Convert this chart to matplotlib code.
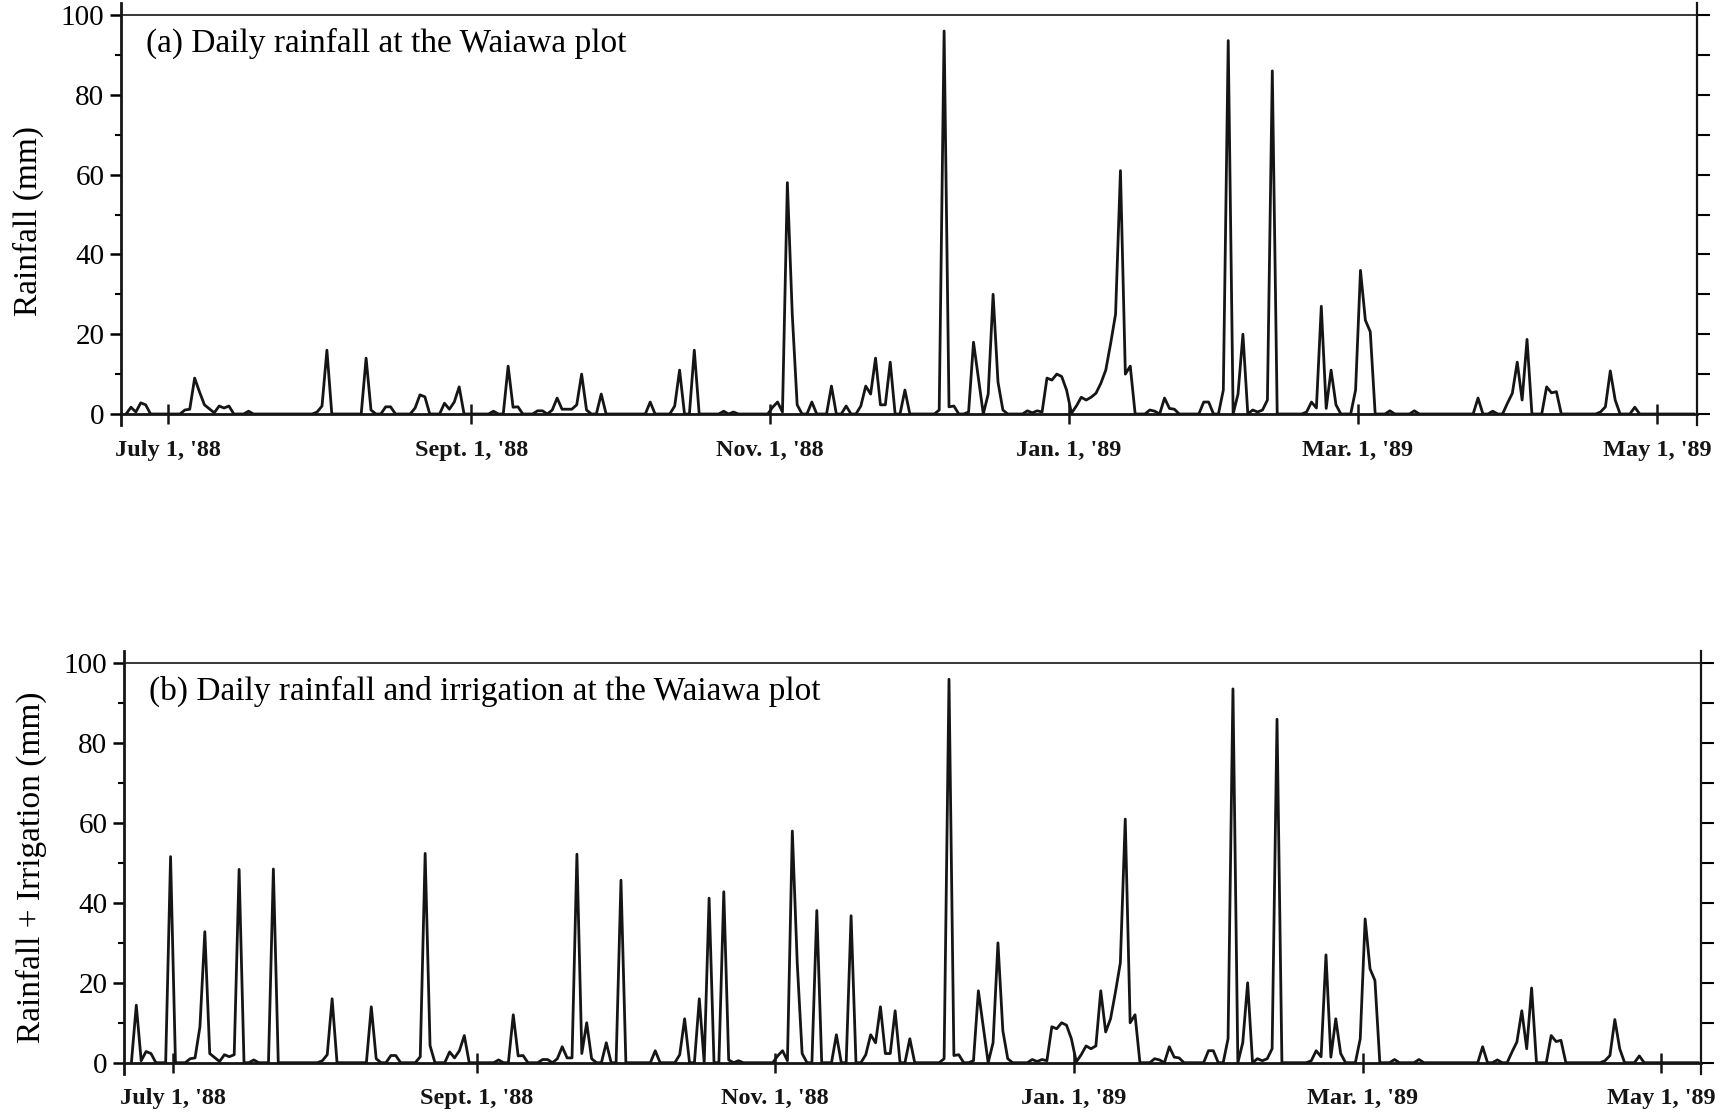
import numpy as np
import matplotlib
matplotlib.use("Agg")
import matplotlib.pyplot as plt

plt.rcParams["font.family"] = ["Liberation Serif", "DejaVu Serif"]

# day numbers counted from July 1, 1988 (day 0)
rain_days = [-8, -7, -6, -5, 3, 4, 5, 6, 7, 8, 9, 10, 11, 12, 16, 30, 31, 32, 40, 41,
             44, 45, 50, 51, 52, 56, 57, 58, 59, 66, 69, 70, 71, 75, 76, 78, 79, 80, 81, 82,
             83, 84, 85, 88, 98, 103, 104, 107, 113, 115, 123, 124, 125, 126, 127, 128, 131, 135, 138, 141,
             142, 143, 144, 145, 146, 147, 150, 157, 158, 159, 160, 163, 164, 165, 167, 168, 169, 170, 175, 176,
             177, 178, 179, 180, 181, 182, 183, 184, 185, 186, 187, 188, 189, 190, 191, 192, 193, 194, 195, 196,
             200, 201, 203, 204, 205, 211, 212, 215, 216, 218, 219, 221, 222, 223, 224, 225, 232, 233, 234, 235,
             236, 237, 238, 242, 243, 244, 245, 249, 254, 267, 270, 273, 274, 275, 276, 277, 281, 282, 283, 292,
             293, 294, 295, 299]
rain_mm = [1.7, 0.5, 2.8, 2.3, 1.0, 1.2, 9.0, 5.5, 2.3, 1.3, 0.3, 2.0, 1.5, 2.0, 0.7, 0.5, 2.0, 16.0, 14.0, 1.0,
           1.8, 1.8, 1.5, 4.8, 4.3, 2.7, 1.2, 3.0, 6.8, 0.7, 12.0, 1.7, 1.8, 0.8, 0.8, 1.0, 4.0, 1.2, 1.2, 1.2,
           2.3, 10.0, 1.0, 5.0, 3.0, 2.0, 11.0, 16.0, 0.7, 0.5, 1.7, 3.0, 0.5, 58.0, 25.0, 2.3, 3.0, 7.0, 2.0, 2.0,
           7.0, 5.0, 14.0, 2.3, 2.3, 13.0, 6.0, 1.0, 96.0, 1.8, 2.0, 0.5, 18.0, 9.0, 5.0, 30.0, 8.0, 1.0, 0.8, 0.3,
           0.8, 0.5, 9.0, 8.5, 10.0, 9.4, 6.0, 0.2, 2.0, 4.2, 3.5, 4.2, 5.2, 7.7, 11.0, 17.7, 25.0, 61.0, 10.0, 12.0,
           1.0, 0.7, 4.0, 1.4, 1.2, 3.0, 3.0, 6.0, 93.6, 5.0, 20.0, 1.0, 0.5, 1.0, 3.5, 86.0, 0.5, 3.0, 1.5, 27.0,
           1.4, 11.0, 2.3, 6.0, 36.0, 23.5, 20.6, 0.8, 0.8, 4.0, 0.7, 2.7, 5.2, 13.0, 3.5, 18.7, 6.8, 5.3, 5.6, 0.5,
           1.8, 10.8, 3.5, 1.7]

irrigation_days = [-8, -1, 6, 13, 20, 51, 82, 91, 109, 112, 131, 138, 189]
irrigation_mm = [12.7, 51.6, 27.3, 48.4, 48.5, 47.6, 51.0, 45.7, 41.2, 42.8, 35.1, 34.8, 12.8]

tick_days = [0, 62, 123, 184, 243, 304]
tick_labels = ["July 1, '88", "Sept. 1, '88", "Nov. 1, '88", "Jan. 1, '89", "Mar. 1, '89", "May 1, '89"]

day_axis = np.arange(-9, 312)
rain = np.zeros(len(day_axis))
rain[np.searchsorted(day_axis, rain_days)] = rain_mm
rain_irr = rain.copy()
rain_irr[np.searchsorted(day_axis, irrigation_days)] += irrigation_mm


def draw_panel(ax, values, title, ylabel, label_y, xlim):
    # daily totals drawn at mid-day, date ticks at the start of the day
    ax.plot(day_axis + 0.5, values, color="#151515", lw=2.0)
    ax.set_xlim(*xlim)
    ax.set_ylim(0, 100)

    for side, lw in [("left", 2.0), ("bottom", 2.0), ("right", 1.6), ("top", 1.2)]:
        ax.spines[side].set_linewidth(lw)
        ax.spines[side].set_color("#151515")
    ax.spines["left"].set_bounds(-2.8, 103)
    ax.spines["right"].set_bounds(-2.8, 103)

    ax.set_xticks(tick_days)
    ax.set_xticklabels(tick_labels, fontsize=17.5, fontweight="bold")
    ax.tick_params(axis="x", direction="inout", length=14, width=1.8, pad=11.5, colors="#151515")

    ax.set_yticks(np.arange(0, 101, 20))
    ax.set_yticks(np.arange(0, 101, 10), minor=True)
    ax.tick_params(axis="y", which="major", direction="out", length=8, width=1.8, pad=4, labelsize=21)
    ax.tick_params(axis="y", which="minor", direction="out", length=4.5, width=1.5)

    right = ax.secondary_yaxis("right")
    right.set_yticks(np.arange(0, 101, 10))
    right.tick_params(direction="out", length=9, width=1.5, labelright=False)
    right.spines["right"].set_visible(False)

    ax.text(0.016, 0.93, title, transform=ax.transAxes, fontsize=24, va="center", ha="left")
    ax.set_ylabel(ylabel, fontsize=24)
    ax.yaxis.set_label_coords(-0.049, label_y)


fig = plt.figure(figsize=(17.35, 11.15), dpi=100)
ax_a = fig.add_axes([0.0697, 0.6287, 0.9084, 0.3578])
ax_b = fig.add_axes([0.0715, 0.0469, 0.9089, 0.3582])

draw_panel(ax_a, rain, "(a) Daily rainfall at the Waiawa plot", "Rainfall (mm)", 0.485,
           (-9.55, 312.2))
draw_panel(ax_b, rain_irr, "(b) Daily rainfall and irrigation at the Waiawa plot",
           "Rainfall + Irrigation (mm)", 0.49, (-10.0, 312.1))

fig.savefig("out.png", dpi=100)
plt.close()
